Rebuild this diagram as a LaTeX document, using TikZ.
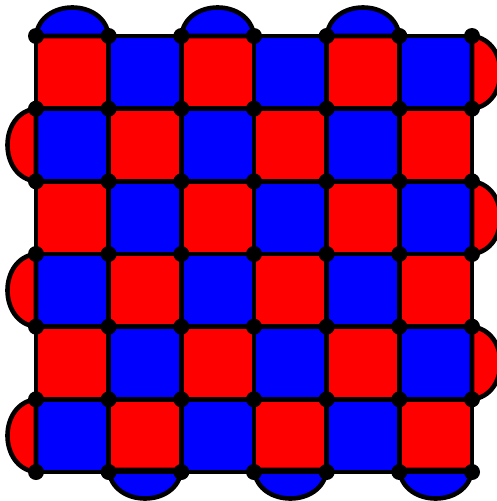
\documentclass[tikz,border=0pt]{standalone}
\usetikzlibrary{calc}
\begin{document}
\begin{tikzpicture}[x=1pt,y=-1pt,
  gridline/.style={line width=4.6pt,line cap=round},
  bumpstyle/.style={line width=4.6pt,draw=black},
  dotstyle/.style={fill=black,circle,inner sep=0pt,minimum size=16pt}]
\useasboundingbox (0,0) rectangle (496,501);
\def\cs{72.6667}
% cells
\foreach \r in {0,...,5}{
  \foreach \c in {0,...,5}{
    \pgfmathtruncatemacro{\cellpar}{mod(\r+\c,2)}
    \ifnum\cellpar=0 \def\col{red}\else\def\col{blue}\fi
    \fill[\col] ({36+\c*\cs},{36+\r*\cs}) rectangle ({36+(\c+1)*\cs},{36+(\r+1)*\cs});
  }
}
% top bumps (blue) over cols 0,2,4
\foreach \c in {0,2,4}{
  \coordinate (ta\c) at ({36+\c*\cs},36);
  \coordinate (tb\c) at ({36+(\c+1)*\cs},36);
  \filldraw[bumpstyle,fill=blue] (ta\c) .. controls ($(ta\c)+(4,-38)$) and ($(tb\c)+(-4,-38)$) .. (tb\c) -- cycle;
}
% bottom bumps (blue) under cols 1,3,5
\foreach \c in {1,3,5}{
  \coordinate (ba\c) at ({36+\c*\cs},470);
  \coordinate (bb\c) at ({36+(\c+1)*\cs},470);
  \filldraw[bumpstyle,fill=blue] (ba\c) .. controls ($(ba\c)+(4,38)$) and ($(bb\c)+(-4,38)$) .. (bb\c) -- cycle;
}
% left bumps (red) rows 1,3,5
\foreach \r in {1,3,5}{
  \coordinate (la\r) at (36,{36+\r*\cs});
  \coordinate (lb\r) at (36,{36+(\r+1)*\cs});
  \filldraw[bumpstyle,fill=red] (la\r) .. controls ($(la\r)+(-38,4)$) and ($(lb\r)+(-38,-4)$) .. (lb\r) -- cycle;
}
% right bumps (red) rows 0,2,4
\foreach \r in {0,2,4}{
  \coordinate (ra\r) at (472,{36+\r*\cs});
  \coordinate (rb\r) at (472,{36+(\r+1)*\cs});
  \filldraw[bumpstyle,fill=red] (ra\r) .. controls ($(ra\r)+(38,4)$) and ($(rb\r)+(38,-4)$) .. (rb\r) -- cycle;
}
% grid lines
\foreach \i in {0,...,6}{
  \draw[gridline] ({36+\i*\cs},36) -- ({36+\i*\cs},470);
  \draw[gridline] (36,{36+\i*\cs}) -- (472,{36+\i*\cs});
}
% dots
\foreach \r in {0,...,6}{
  \foreach \c in {0,...,6}{
    \node[dotstyle] (d\r\c) at ({36+\c*\cs},{36+\r*\cs}) {};
  }
}
\end{tikzpicture}
\end{document}
